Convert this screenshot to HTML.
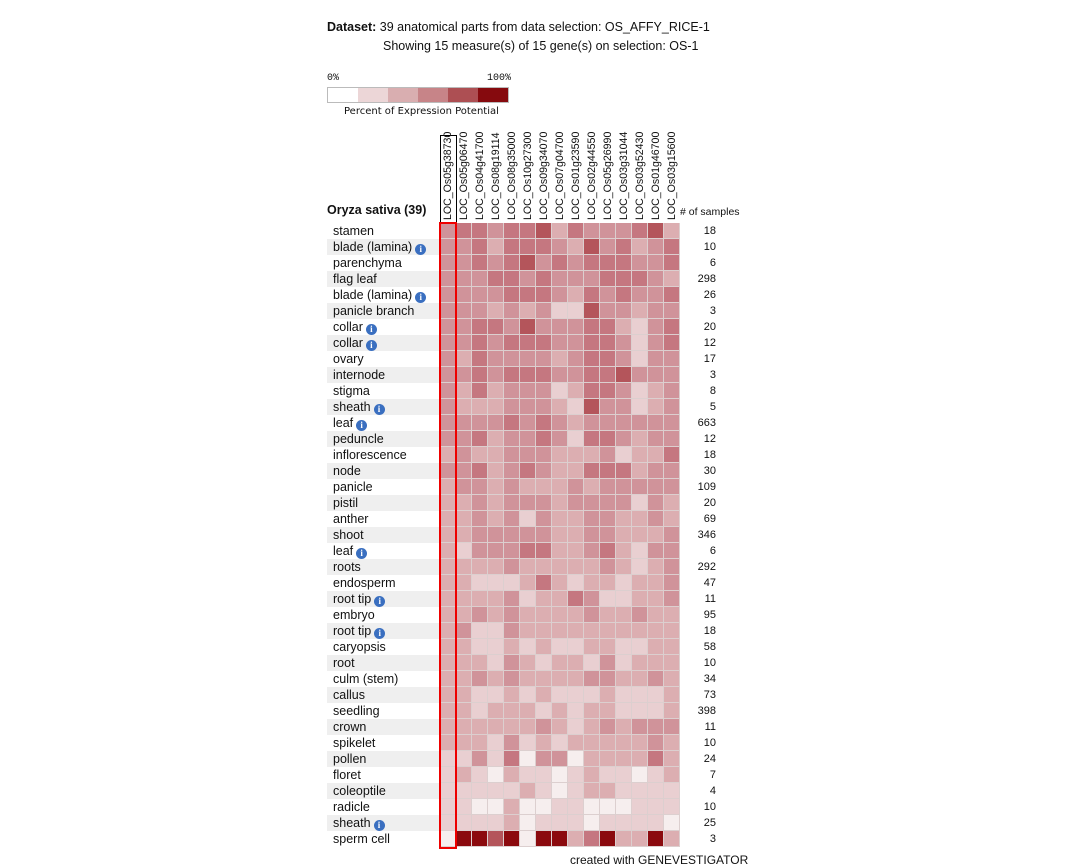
<!DOCTYPE html>
<html><head><meta charset="utf-8"><style>
body{margin:0;width:1086px;height:868px;background:#fff;font-family:"Liberation Sans",sans-serif;position:relative;overflow:hidden;color:#111}
.a{position:absolute;white-space:nowrap}
.lab{position:absolute;left:327px;width:113px;height:16px;font-size:12.5px;line-height:16px;padding-left:6px;box-sizing:border-box}
.lab.g{background:#efefef}
.i{display:inline-block;width:11px;height:11px;border-radius:50%;background:#3a6fc0;color:#fff;font-size:9px;line-height:11px;text-align:center;font-weight:bold;vertical-align:-1px;margin-left:3px;font-family:"Liberation Serif",serif}
.c{position:absolute;width:15px;height:15px}
.n{position:absolute;left:680px;width:36px;text-align:right;font-size:11px;line-height:16px}
.h{position:absolute;font-size:10.6px;line-height:15px;transform:rotate(-90deg);transform-origin:0 0;white-space:nowrap}
</style></head><body>
<div class="a" style="left:327px;top:20px;font-size:12.5px"><b>Dataset:</b> 39 anatomical parts from data selection: OS_AFFY_RICE-1</div>
<div class="a" style="left:383px;top:39px;font-size:12.5px">Showing 15 measure(s) of 15 gene(s) on selection: OS-1</div>
<div class="a" style="left:327px;top:73px;font-size:10px;font-family:'Liberation Mono',monospace">0%</div>
<div class="a" style="left:487px;top:73px;font-size:10px;font-family:'Liberation Mono',monospace">100%</div>
<div class="a" style="left:327px;top:87px;width:180px;height:14px;border:1px solid #bbb;display:flex">
<div style="flex:1;background:#fff"></div><div style="flex:1;background:#ecd6d7"></div><div style="flex:1;background:#d9aeb0"></div><div style="flex:1;background:#c78488"></div><div style="flex:1;background:#ad4f53"></div><div style="flex:1;background:#860a0e"></div></div>
<div class="a" style="left:344px;top:106px;font-size:10px;font-family:'DejaVu Sans',sans-serif">Percent of Expression Potential</div>
<div class="a" style="left:327px;top:203px;font-size:12.5px;font-weight:bold">Oryza sativa (39)</div>
<div class="a" style="left:680px;top:206px;font-size:10.5px"># of samples</div>
<div class="a" style="left:440px;top:135px;width:15px;height:86px;border:1px solid #000"></div>
<div id="g"></div>
<div class="a" style="left:439px;top:222px;width:14px;height:623px;border:2px solid #e00"></div>
<div class="a" style="left:570px;top:853px;font-size:12px">created with GENEVESTIGATOR</div>
<script>
var genes="LOC_Os05g38730 LOC_Os05g06470 LOC_Os04g41700 LOC_Os08g19114 LOC_Os08g35000 LOC_Os10g27300 LOC_Os09g34070 LOC_Os07g04700 LOC_Os01g23590 LOC_Os02g44550 LOC_Os05g26990 LOC_Os03g31044 LOC_Os03g52430 LOC_Os01g46700 LOC_Os03g15600".split(" ");
var rows=[["stamen",0,18,"344344524333452"],["blade (lamina)",1,10,"334244432534234"],["parenchyma",0,6,"334345343444334"],["flag leaf",0,298,"333443433344432"],["blade (lamina)",1,26,"333344432434334"],["panicle branch",0,3,"333232311533233"],["collar",1,20,"334435333442134"],["collar",1,12,"334344433443134"],["ovary",0,17,"324333323443133"],["internode",0,3,"334344433445333"],["stigma",0,8,"324233312443123"],["sheath",1,5,"322233321533123"],["leaf",1,663,"333343432333333"],["peduncle",0,12,"334233431443233"],["inflorescence",0,18,"232233322231224"],["node",0,30,"334234322444233"],["panicle",0,109,"233232223233333"],["pistil",0,20,"223233323333132"],["anther",0,69,"223231322332232"],["shoot",0,346,"223333322332223"],["leaf",1,6,"213334422342133"],["roots",0,292,"222232222232123"],["endosperm",0,47,"221112421221223"],["root tip",1,11,"222231224311223"],["embryo",0,95,"223232222322322"],["root tip",1,18,"231132222222222"],["caryopsis",0,58,"221121211221122"],["root",0,10,"222132122131222"],["culm (stem)",0,34,"223232222332232"],["callus",0,73,"221121211121112"],["seedling",0,398,"221222121221112"],["crown",0,11,"222222321232333"],["spikelet",0,10,"222131212222232"],["pollen",0,24,"113140330222242"],["floret",0,7,"121021101211012"],["coleoptile",0,4,"111112101221111"],["radicle",0,10,"110020011000111"],["sheath",1,25,"111120111011110"],["sperm cell",0,3,"066560662462262"]];
var col=["#f6eeee","#e9cfd1","#dcaeb1","#d0939a","#c57780","#b4555b","#8b0a0e"];
var h="";
genes.forEach(function(g,j){h+='<div class="h" style="left:'+(441+j*16)+'px;top:220px">'+g+'</div>';});
h+='<div class="a" style="left:440px;top:223px;width:240px;height:624px;background:#dccfcf"></div>';
rows.forEach(function(r,i){var y=223+i*16;
h+='<div class="lab'+(i%2?' g':'')+'" style="top:'+y+'px">'+r[0]+(r[1]?'<span class="i">i</span>':'')+'</div>';
for(var j=0;j<15;j++){var v=+r[3][j];h+='<div class="c" style="left:'+(440+j*16)+'px;top:'+y+'px;background:'+col[v]+'"></div>';}
h+='<div class="n" style="top:'+y+'px">'+r[2]+'</div>';});
document.getElementById("g").innerHTML=h;
</script>
</body></html>
